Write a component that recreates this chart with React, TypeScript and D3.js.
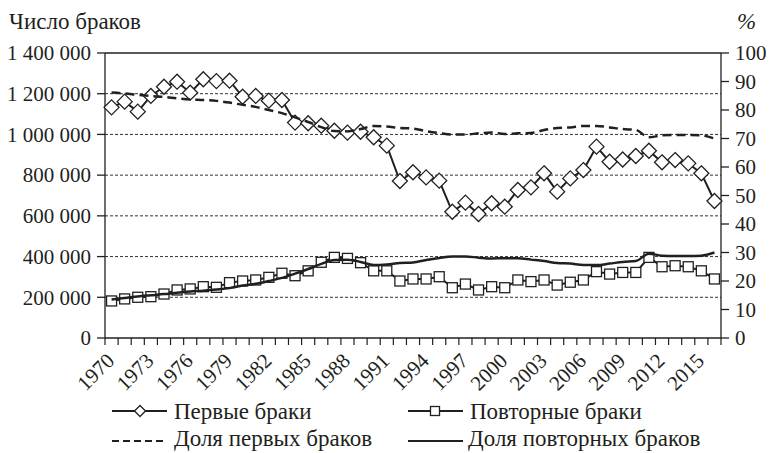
import React from 'react';
import * as d3 from 'd3';

const years = [
  1970, 1971, 1972, 1973, 1974, 1975, 1976, 1977, 1978, 1979,
  1980, 1981, 1982, 1983, 1984, 1985, 1986, 1987, 1988, 1989,
  1990, 1991, 1992, 1993, 1994, 1995, 1996, 1997, 1998, 1999,
  2000, 2001, 2002, 2003, 2004, 2005, 2006, 2007, 2008, 2009,
  2010, 2011, 2012, 2013, 2014, 2015, 2016,
];

// Первые браки
const firstMarriages = [
  1133000, 1161000, 1112000, 1189000, 1234000, 1259000, 1205000, 1271000, 1262000, 1264000,
  1185000, 1189000, 1166000, 1169000, 1058000, 1055000, 1043000, 1018000, 1009000, 1013000,
  986000, 945000, 771000, 814000, 789000, 773000, 620000, 665000, 609000, 662000,
  645000, 727000, 740000, 809000, 719000, 784000, 825000, 940000, 866000, 877000,
  894000, 920000, 863000, 874000, 858000, 809000, 673000,
];

// Повторные браки
const repeatMarriages = [
  182000, 192000, 200000, 203000, 216000, 236000, 241000, 252000, 249000, 272000,
  280000, 285000, 298000, 318000, 306000, 330000, 372000, 396000, 391000, 370000,
  330000, 330000, 280000, 290000, 290000, 301000, 247000, 265000, 236000, 252000,
  247000, 285000, 277000, 285000, 260000, 274000, 285000, 326000, 314000, 322000,
  322000, 396000, 350000, 355000, 350000, 330000, 290000,
];

// Доля первых браков, %
const firstShare = [
  86.1, 85.8, 85.3, 84.9, 84.6, 84.1, 83.7, 83.5, 83.2, 82.6,
  81.8, 81.1, 80.0, 78.9, 77.4, 75.8, 74.0, 72.6, 72.5, 73.3,
  74.4, 74.2, 73.7, 73.5, 72.6, 71.9, 71.4, 71.4, 71.8, 72.1,
  71.6, 71.8, 71.9, 73.0, 73.7, 73.9, 74.4, 74.4, 73.9, 73.3,
  73.0, 70.4, 71.1, 71.2, 71.2, 71.1, 70.0,
];

// Доля повторных браков, %
const repeatShare = [
  13.5, 14.0, 14.6, 15.0, 15.4, 15.9, 16.3, 16.6, 17.0, 17.5,
  18.4, 19.0, 20.0, 21.1, 22.6, 24.2, 26.0, 27.4, 27.5, 26.7,
  25.6, 25.8, 26.3, 26.5, 27.4, 28.1, 28.6, 28.6, 28.2, 27.9,
  28.0, 28.0, 27.5, 27.0, 26.3, 26.1, 25.6, 25.6, 26.1, 26.7,
  27.0, 29.6, 28.9, 28.8, 28.8, 28.9, 30.0,
];

const leftTicks = [0, 200000, 400000, 600000, 800000, 1000000, 1200000, 1400000];
const leftTickLabels = ['0', '200 000', '400 000', '600 000', '800 000', '1 000 000', '1 200 000', '1 400 000'];
const rightTicks = [0, 10, 20, 30, 40, 50, 60, 70, 80, 90, 100];
const xLabelYears = [1970, 1973, 1976, 1979, 1982, 1985, 1988, 1991, 1994, 1997, 2000, 2003, 2006, 2009, 2012, 2015];

const W = 769;
const H = 453;
const FONT = "'Liberation Serif', 'Times New Roman', 'DejaVu Serif', serif";
const INK = '#231f20';

export default function App() {
  const left = 105, right = 721, top = 53, bottom = 338;

  const x = d3.scaleBand<number>().domain(years).range([left, right]).paddingInner(0).paddingOuter(0);
  const cx = (yr: number) => (x(yr) as number) + x.bandwidth() / 2;
  const yL = d3.scaleLinear().domain([0, 1400000]).range([bottom, top]);
  const yR = d3.scaleLinear().domain([0, 100]).range([bottom, top]);

  const lineL = d3.line<number>().x((_, i) => cx(years[i])).y(d => yL(d));
  const lineR = d3.line<number>().x((_, i) => cx(years[i])).y(d => yR(d)).curve(d3.curveMonotoneX);

  const diamond = (px: number, py: number, r: number) =>
    `M${px},${py - r}L${px + r},${py}L${px},${py + r}L${px - r},${py}Z`;

  const tickXs = years.map(yr => x(yr) as number).concat([right]);

  return (
    <svg width={W} height={H} style={{ position: 'absolute', left: 0, top: 0, background: '#fff', fontFamily: FONT }}
      fontSize={21} fill={INK}>
      {/* titles */}
      <text x={9} y={29} fontSize={23}>Число браков</text>
      <text x={737} y={29} fontSize={23} fontStyle="italic">%</text>

      {/* grid lines */}
      {leftTicks.filter(t => t > 0 && t < 1400000).map(t => (
        <line key={t} x1={left} x2={right} y1={yL(t)} y2={yL(t)}
          stroke="#333" strokeWidth={1} strokeDasharray="3,2" />
      ))}

      {/* frame */}
      <line x1={left} x2={right} y1={top} y2={top} stroke={INK} strokeWidth={1.3} />
      <line x1={left} x2={left} y1={top} y2={bottom} stroke={INK} strokeWidth={1.3} />
      <line x1={right} x2={right} y1={top} y2={bottom} stroke={INK} strokeWidth={1.3} />
      <line x1={left} x2={right} y1={bottom} y2={bottom} stroke={INK} strokeWidth={1.3} />

      {/* left axis */}
      {leftTicks.map((t, i) => (
        <g key={t}>
          <line x1={left - 8} x2={left} y1={yL(t)} y2={yL(t)} stroke={INK} strokeWidth={1.3} />
          <text x={left - 14} y={yL(t)} dy="0.35em" textAnchor="end">{leftTickLabels[i]}</text>
        </g>
      ))}

      {/* right axis */}
      {rightTicks.map(t => (
        <g key={t}>
          <line x1={right} x2={right + 8} y1={yR(t)} y2={yR(t)} stroke={INK} strokeWidth={1.3} />
          <text x={right + 14} y={yR(t)} dy="0.35em">{t}</text>
        </g>
      ))}

      {/* x axis */}
      {tickXs.map((tx, i) => (
        <line key={i} x1={tx} x2={tx} y1={bottom} y2={bottom + 7} stroke={INK} strokeWidth={1.2} />
      ))}
      {xLabelYears.map(yr => (
        <text key={yr} textAnchor="end" transform={`translate(${cx(yr) + 4},${362}) rotate(-45)`}>{yr}</text>
      ))}

      {/* Первые браки */}
      <path d={lineL(firstMarriages) || ''} fill="none" stroke={INK} strokeWidth={2} />
      {firstMarriages.map((v, i) => (
        <path key={i} d={diamond(cx(years[i]), yL(v), 7.5)} fill="#fff" stroke={INK} strokeWidth={1.3} />
      ))}

      {/* Повторные браки */}
      <path d={lineL(repeatMarriages) || ''} fill="none" stroke={INK} strokeWidth={2} />
      {repeatMarriages.map((v, i) => (
        <rect key={i} x={cx(years[i]) - 5} y={yL(v) - 5} width={10} height={10}
          fill="#fff" stroke={INK} strokeWidth={1.3} />
      ))}

      {/* shares */}
      <path d={lineR(firstShare) || ''} fill="none" stroke={INK} strokeWidth={2.5} strokeDasharray="9,5" />
      <path d={lineR(repeatShare) || ''} fill="none" stroke={INK} strokeWidth={2.5} />

      {/* legend */}
      <g fontSize={23}>
        <line x1={112} x2={167} y1={411} y2={411} stroke={INK} strokeWidth={2} />
        <path d={diamond(140, 411, 5.5)} fill="#fff" stroke={INK} strokeWidth={1.3} />
        <text x={174} y={419}>Первые браки</text>

        <line x1={408} x2={463} y1={411} y2={411} stroke={INK} strokeWidth={2} />
        <rect x={430.5} y={406.5} width={9} height={9} fill="#fff" stroke={INK} strokeWidth={1.3} />
        <text x={470} y={419}>Повторные браки</text>

        <line x1={112} x2={167} y1={441} y2={441} stroke={INK} strokeWidth={2} strokeDasharray="7,4" />
        <text x={174} y={446}>Доля первых браков</text>

        <line x1={408} x2={463} y1={441} y2={441} stroke={INK} strokeWidth={2} />
        <text x={468} y={446}>Доля повторных браков</text>
      </g>
    </svg>
  );
}
